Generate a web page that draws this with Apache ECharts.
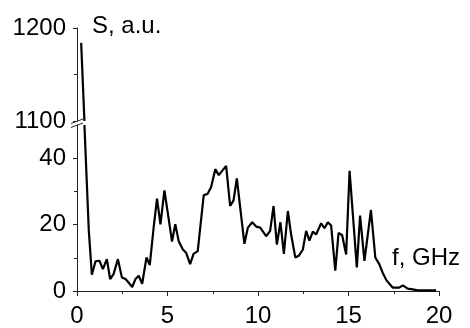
<!DOCTYPE html>
<html><head><meta charset="utf-8">
<script src="https://cdn.jsdelivr.net/npm/echarts@6/dist/echarts.min.js"></script>
<style>html,body{margin:0;padding:0;background:#fff}#c{width:470px;height:328px}</style>
</head><body><div id="c"></div>
<script>
// upper (broken) segment of the curve
const topFreq = [0.23, 0.41];
const topS = [1184, 1100];
// lower segment
const freq = [0.41,0.65,0.82,1.02,1.24,1.43,1.65,1.83,2.02,2.26,2.48,2.68,2.86,3.05,3.23,3.41,3.6,3.84,4.02,4.23,4.42,4.61,4.83,5.06,5.25,5.43,5.62,5.85,6.03,6.25,6.44,6.67,7.0,7.22,7.41,7.64,7.83,8.02,8.24,8.46,8.65,8.83,9.25,9.44,9.68,9.9,10.12,10.45,10.67,10.86,11.04,11.24,11.43,11.65,11.83,12.06,12.25,12.48,12.66,12.84,13.03,13.21,13.49,13.67,13.86,14.04,14.27,14.45,14.65,14.87,15.06,15.46,15.64,15.88,16.24,16.48,16.7,16.88,17.1,17.45,17.8,18.0,18.27,18.55,18.83,19.84];
const S = [50,18.4,4.9,8.9,9.1,6.6,9.6,3.6,5.1,9.6,4.1,3.6,2.5,1.2,3.6,4.6,2.2,10.1,7.8,18.9,27.8,20.1,30.3,21.9,14.9,20.1,15.0,12.5,11.5,8.1,11.2,12.0,28.8,29.3,31.3,36.7,34.9,36.2,37.7,25.6,27.3,33.9,14.2,19.1,20.7,19.4,19.1,16.5,18.1,25.6,14.0,20.7,11.2,24.1,17.0,10.1,10.6,12.5,18.1,15.2,17.9,17.0,20.4,18.9,20.7,19.7,6.1,17.5,16.8,11.0,36.2,7.1,22.7,9.1,24.4,10.1,8.1,5.6,3.2,1.0,1.0,1.7,0.7,0.5,0.2,0.2];
const xTicks = [0, 5, 10, 15, 20];
const xMinor = [2.5, 7.5, 12.5, 17.5];
const yTopTicks = [1100, 1200];
const yTopMinor = [1150];
const yLowTicks = [0, 20, 40];
const yLowMinor = [10, 30];
const xName = 'f, GHz';
const yName = 'S, a.u.';

const FONT = 'Liberation Sans';
const AX = '#222';
const chart = echarts.init(document.getElementById('c'), null, {renderer: 'canvas'});
const grids = [
  {left: 77, width: 362, top: 28, height: 93},
  {left: 77, width: 362, top: 125, height: 169}
];
const lbl = {color: '#000', fontSize: 24, fontFamily: FONT, formatter: v => String(v)};
const tickStyle = {color: AX, width: 1};
function minorAxis(extra) {
  return Object.assign({type: 'value', axisLine: {show: false}, splitLine: {show: false},
    axisLabel: {show: false}}, extra);
}
chart.setOption({
  animation: false,
  grid: grids,
  xAxis: [
    {gridIndex: 0, type: 'value', min: 0, max: 20, show: false},
    {gridIndex: 1, type: 'value', min: 0, max: 20, interval: 5, position: 'bottom',
     axisLine: {show: true, onZero: false, lineStyle: {color: AX, width: 1}},
     axisTick: {show: true, inside: false, length: 5, customValues: xTicks, lineStyle: tickStyle},
     splitLine: {show: false},
     axisLabel: Object.assign({margin: 13, customValues: xTicks}, lbl)},
    minorAxis({gridIndex: 1, min: 0, max: 20, interval: 5, position: 'bottom',
     axisTick: {show: true, inside: false, length: 3, customValues: xMinor, lineStyle: tickStyle}})
  ],
  yAxis: [
    {gridIndex: 0, type: 'value', min: 1100, max: 1200, interval: 100, position: 'left',
     axisLine: {show: true, onZero: false, lineStyle: {color: AX, width: 1}},
     axisTick: {show: true, inside: false, length: 4, customValues: yTopTicks, lineStyle: tickStyle},
     splitLine: {show: false},
     axisLabel: Object.assign({margin: 11, customValues: yTopTicks}, lbl)},
    {gridIndex: 1, type: 'value', min: 0, max: 50, interval: 10, position: 'left',
     axisLine: {show: true, onZero: false, lineStyle: {color: AX, width: 1}},
     axisTick: {show: true, inside: false, length: 4, customValues: yLowTicks, lineStyle: tickStyle},
     splitLine: {show: false},
     axisLabel: Object.assign({margin: 11, customValues: yLowTicks}, lbl)},
    minorAxis({gridIndex: 0, min: 1100, max: 1200, interval: 50, position: 'left',
     axisTick: {show: true, inside: false, length: 3, customValues: yTopMinor, lineStyle: tickStyle}}),
    minorAxis({gridIndex: 1, min: 0, max: 50, interval: 10, position: 'left',
     axisTick: {show: true, inside: false, length: 3, customValues: yLowMinor, lineStyle: tickStyle}})
  ],
  series: [
    {type: 'line', xAxisIndex: 0, yAxisIndex: 0, data: topFreq.map((f, i) => [f, topS[i]]),
     symbol: 'none', clip: false, lineStyle: {color: '#000', width: 2.2}},
    {type: 'line', xAxisIndex: 1, yAxisIndex: 1, data: freq.map((f, i) => [f, S[i]]),
     symbol: 'none', clip: false, lineStyle: {color: '#000', width: 2.2}}
  ]
});
const ax = chart.convertToPixel({xAxisIndex: 1}, 0);
const y1 = chart.convertToPixel({yAxisIndex: 0}, 1100);
const y2 = chart.convertToPixel({yAxisIndex: 1}, 50);
chart.setOption({
  graphic: [
    {type: 'line', shape: {x1: ax - 6, y1: y1 + 2.5, x2: ax + 6, y2: y1 - 2}, style: {stroke: AX, lineWidth: 1}},
    {type: 'line', shape: {x1: ax - 6, y1: y2 + 2.5, x2: ax + 6, y2: y2 - 2}, style: {stroke: AX, lineWidth: 1}},
    {type: 'text', style: {x: 92, y: 26, text: yName, fill: '#000', font: '24px "Liberation Sans"', verticalAlign: 'middle'}},
    {type: 'text', style: {x: 392, y: 258, text: xName, fill: '#000', font: '24px "Liberation Sans"', verticalAlign: 'middle'}}
  ]
});
</script></body></html>
